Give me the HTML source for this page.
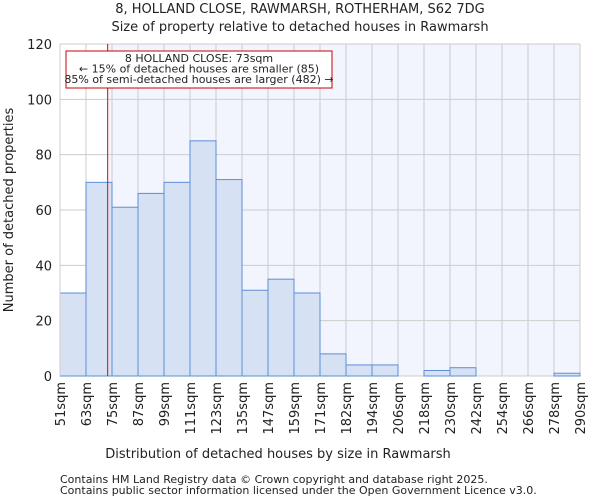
<!DOCTYPE html>
<html><head><meta charset="utf-8"><style>
body{margin:0;background:#fff;font-family:"DejaVu Sans","Liberation Sans",sans-serif;}
svg text{font-family:"DejaVu Sans","Liberation Sans",sans-serif;fill:#222;}
</style></head><body>
<svg id="chart" width="600" height="500">
<text x="300" y="13" font-size="13" text-anchor="middle">8, HOLLAND CLOSE, RAWMARSH, ROTHERHAM, S62 7DG</text>
<text x="300" y="31" font-size="13" text-anchor="middle">Size of property relative to detached houses in Rawmarsh</text>
<g id="plot"></g>
<text x="278" y="458" font-size="13" text-anchor="middle">Distribution of detached houses by size in Rawmarsh</text>
<text transform="translate(13,210) rotate(-90)" font-size="13" text-anchor="middle">Number of detached properties</text>
<text x="60" y="483" font-size="11">Contains HM Land Registry data © Crown copyright and database right 2025.</text>
<text x="60" y="494" font-size="11">Contains public sector information licensed under the Open Government Licence v3.0.</text>
</svg>
<script>
const edges=[51,63,75,87,99,111,123,135,147,159,171,182,194,206,218,230,242,254,266,278,290];
const counts=[30,70,61,66,70,85,71,31,35,30,8,4,4,0,2,3,0,0,0,1];
const yTicks=[0,20,40,60,80,100,120];
const markerSize=73;
const NS="http://www.w3.org/2000/svg";
const L=60,R=580,T=44,B=376,yMax=120;
const g=document.getElementById('plot');
const bw=(R-L)/counts.length;
const xIdx=i=>L+i*bw;
const xVal=v=>{for(let i=0;i<edges.length-1;i++){if(v<=edges[i+1])return xIdx(i)+bw*(v-edges[i])/(edges[i+1]-edges[i]);}return R;};
const y=v=>B-(B-T)*v/yMax;
function el(t,a){const e=document.createElementNS(NS,t);for(const k in a)e.setAttribute(k,a[k]);g.appendChild(e);return e;}
const mx=xVal(markerSize);
let e=el('rect',{x:L,y:T,width:R-L,height:B-T,fill:'#fff'});


e=el('rect',{x:mx,y:T,width:R-mx,height:B-T,fill:'#f2f5fd'});


yTicks.forEach(t=>{
 let l=el('line',{x1:L,x2:R,y1:y(t),y2:y(t),stroke:'#ccc','stroke-width':1});
 
 
 let tx=el('text',{x:L-8,y:y(t)+5,'font-size':13,'text-anchor':'end'});tx.textContent=t;
 
 
});
edges.forEach((v,i)=>{
 let l=el('line',{x1:xIdx(i),x2:xIdx(i),y1:T,y2:B,stroke:'#ccc','stroke-width':1});
 
 
 let tx=el('text',{transform:`translate(${xIdx(i)+5},${B+6}) rotate(-90)`,'font-size':13,'text-anchor':'end'});tx.textContent=v+'sqm';
 
 
});
counts.forEach((c,i)=>{
 if(c<=0)return;
 let r=el('rect',{x:xIdx(i),y:y(c),width:bw,height:B-y(c),fill:'#d6e1f4',stroke:'#5b8fd6','stroke-width':1});
 
 
});
e=el('line',{x1:mx,x2:mx,y1:T,y2:B,stroke:'#e00','stroke-width':1});


e=el('rect',{x:66,y:51,width:266,height:37,fill:'#fff',stroke:'#c00','stroke-width':1});


['8 HOLLAND CLOSE: 73sqm','← 15% of detached houses are smaller (85)','85% of semi-detached houses are larger (482) →'].forEach((s,i)=>{
 let t=el('text',{x:199,y:62+i*10.5,'font-size':11,'text-anchor':'middle'});t.textContent=s;
 
 
});
e=el('line',{x1:L,x2:L,y1:T,y2:B,stroke:'#ccc'});


</script>
</body></html>
